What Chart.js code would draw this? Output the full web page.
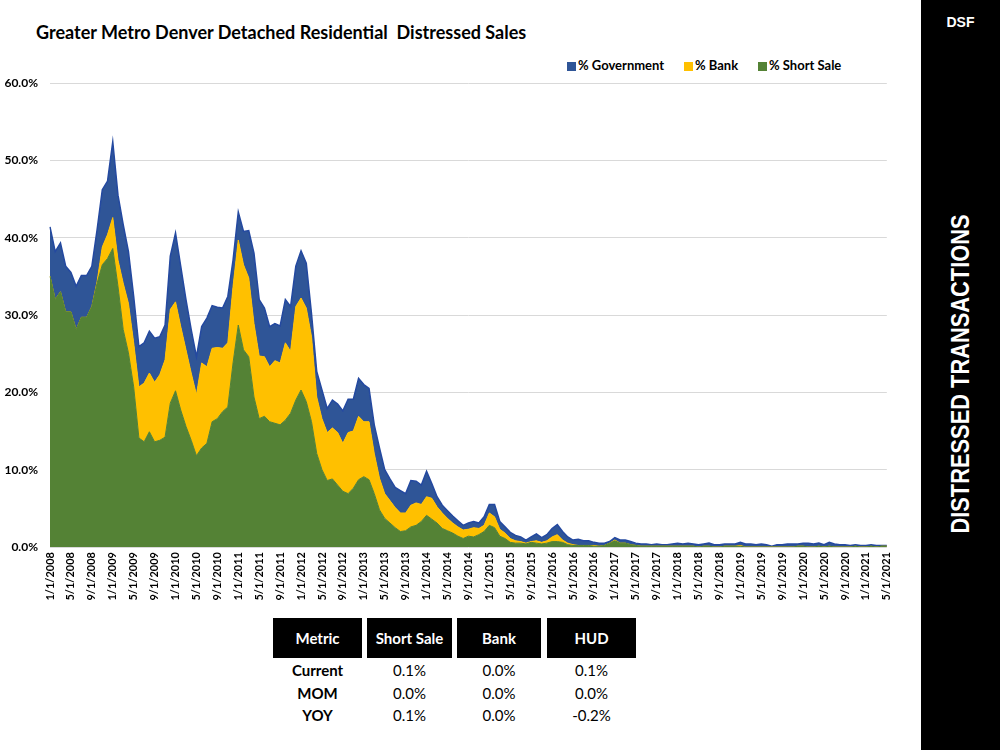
<!DOCTYPE html>
<html>
<head>
<meta charset="utf-8">
<script src="https://cdn.jsdelivr.net/npm/chart.js@4"></script>
<style>
  body { margin: 0; width: 1000px; height: 750px; background: #fff; position: relative; overflow: hidden; font-family: Lato, "Open Sans", sans-serif; }
  #wrap { position: absolute; left: 0; top: 0; width: 905px; height: 610px; }
  #title { position: absolute; left: 36px; top: 21px; font-size: 18px; font-weight: bold; white-space: pre; color: #000; }
  .leg { position: absolute; top: 57px; font-size: 13px; font-weight: bold; color: #000; white-space: pre; }
  .leg i { display: inline-block; width: 9px; height: 9px; margin-right: 2px; vertical-align: -1px; }
  #side { position: absolute; left: 921px; top: 0; width: 79px; height: 750px; background: #000; color: #fff; font-family: "Liberation Sans", Arial, sans-serif; font-weight: bold; }
  #dsf { position: absolute; top: 14px; width: 100%; text-align: center; font-size: 14px; }
  #vert { position: absolute; left: 39px; top: 374px; font-size: 26px; white-space: nowrap; transform: translate(-50%, -50%) rotate(-90deg) scaleX(0.84); }
  .cell { position: absolute; text-align: center; font-size: 15px; }
  .head { background: #000; color: #fff; font-weight: bold; height: 40px; line-height: 40px; top: 618px; }
</style>
</head>
<body>
<div id="title">Greater Metro Denver Detached Residential  Distressed Sales</div>
<div class="leg" style="left:567px"><i style="background:#2F5597"></i>% Government</div>
<div class="leg" style="left:684px"><i style="background:#FFC000"></i>% Bank</div>
<div class="leg" style="left:758px"><i style="background:#548235"></i>% Short Sale</div>
<div id="wrap"><canvas id="myChart"></canvas></div>
<div id="table"></div>
<div id="side"><div id="dsf">DSF</div><div id="vert">DISTRESSED TRANSACTIONS</div></div>
<script>
// monthly, 1/1/2008 .. 5/1/2021 (one row per year)
const startYear = 2008;
const shortSale = [
    35.0, 32.0, 33.0, 30.4, 30.4, 28.1, 29.7, 29.7, 31.1, 34.1, 36.5, 37.3,
    38.6, 33.7, 28.1, 25.1, 20.7, 14.1, 13.6, 14.9, 13.6, 13.8, 14.2, 18.6,
    20.2, 17.7, 15.6, 13.8, 11.8, 12.8, 13.4, 16.2, 16.6, 17.5, 18.1, 23.8,
    28.7, 25.5, 24.6, 19.4, 16.6, 16.9, 16.2, 16.0, 15.8, 16.4, 17.3, 19.0,
    20.3, 18.8, 16.2, 12.1, 10.0, 8.6, 8.8, 8.0, 7.2, 6.9, 7.6, 8.7,
    9.1, 8.7, 6.9, 4.8, 3.7, 3.1, 2.5, 2.0, 2.1, 2.6, 2.8, 3.3,
    4.1, 3.6, 3.1, 2.4, 2.1, 1.8, 1.4, 1.1, 1.4, 1.3, 1.6, 2.0,
    2.8, 2.5, 1.4, 1.1, 0.6, 0.5, 0.5, 0.4, 0.6, 0.5, 0.4, 0.5,
    0.7, 0.7, 0.6, 0.3, 0.2, 0.2, 0.2, 0.2, 0.1, 0.1, 0.2, 0.5,
    0.8, 0.5, 0.5, 0.3, 0.2, 0.1, 0.1, 0.1, 0.1, 0.1, 0.1, 0.1,
    0.1, 0.1, 0.1, 0.1, 0.0, 0.1, 0.1, 0.0, 0.0, 0.1, 0.1, 0.1,
    0.1, 0.0, 0.0, 0.0, 0.0, 0.0, 0.0, 0.0, 0.0, 0.0, 0.0, 0.1,
    0.1, 0.0, 0.0, 0.1, 0.0, 0.1, 0.0, 0.0, 0.0, 0.0, 0.1, 0.0,
    0.0, 0.1, 0.0, 0.1, 0.1
];
const bank = [
    0.0, 0.0, 0.0, 0.0, 0.0, 0.0, 0.0, 0.0, 0.0, 0.2, 2.3, 3.1,
    4.0, 3.4, 6.0, 6.4, 5.7, 6.6, 7.6, 7.6, 7.7, 8.5, 10.0, 12.1,
    11.5, 10.8, 9.9, 8.7, 7.9, 11.0, 9.9, 9.5, 9.2, 8.2, 8.3, 9.9,
    11.0, 11.0, 10.2, 9.5, 8.1, 7.7, 7.1, 8.1, 8.0, 10.0, 8.0, 12.1,
    11.9, 12.1, 11.0, 7.3, 6.6, 6.2, 6.6, 6.8, 6.2, 7.9, 7.4, 8.2,
    7.1, 7.5, 5.2, 4.1, 3.2, 2.9, 2.6, 2.4, 2.3, 2.8, 2.9, 2.2,
    2.4, 2.7, 2.1, 2.0, 1.6, 1.3, 1.2, 1.1, 0.9, 1.2, 0.8, 0.8,
    1.6, 1.4, 0.9, 0.7, 0.5, 0.3, 0.2, 0.1, 0.1, 0.3, 0.2, 0.3,
    0.6, 0.9, 0.3, 0.2, 0.1, 0.0, 0.0, 0.0, 0.1, 0.0, 0.0, 0.0,
    0.1, 0.0, 0.0, 0.0, 0.0, 0.0, 0.0, 0.0, 0.0, 0.0, 0.0, 0.0,
    0.0, 0.0, 0.0, 0.0, 0.0, 0.0, 0.0, 0.0, 0.0, 0.0, 0.0, 0.0,
    0.1, 0.0, 0.0, 0.0, 0.0, 0.0, 0.0, 0.0, 0.0, 0.0, 0.0, 0.0,
    0.0, 0.0, 0.0, 0.0, 0.0, 0.0, 0.0, 0.0, 0.0, 0.0, 0.0, 0.0,
    0.0, 0.0, 0.0, 0.0, 0.0
];
const government = [
    6.4, 6.2, 6.3, 5.9, 5.1, 5.6, 5.4, 5.4, 5.2, 6.7, 7.4, 6.9,
    9.8, 8.4, 7.6, 6.7, 6.0, 5.2, 5.2, 5.4, 5.7, 4.9, 4.5, 6.9,
    8.9, 7.8, 6.5, 5.6, 4.9, 4.7, 6.3, 5.5, 5.2, 5.2, 6.0, 3.4,
    3.6, 4.3, 6.1, 9.1, 7.3, 6.3, 5.2, 4.8, 4.8, 5.6, 5.8, 5.2,
    6.1, 5.8, 3.0, 3.3, 3.7, 3.1, 3.6, 3.7, 4.2, 4.3, 4.1, 4.9,
    4.8, 4.3, 3.7, 3.9, 3.1, 2.8, 2.6, 2.9, 2.5, 3.2, 2.8, 2.5,
    3.3, 1.9, 1.3, 1.0, 1.0, 0.9, 0.8, 0.6, 0.8, 0.8, 0.7, 1.1,
    1.1, 1.6, 1.0, 0.8, 0.8, 0.7, 0.6, 0.4, 0.6, 0.9, 0.6, 0.8,
    1.1, 1.3, 1.1, 0.8, 0.6, 0.8, 0.6, 0.6, 0.4, 0.4, 0.3, 0.2,
    0.3, 0.4, 0.4, 0.4, 0.3, 0.3, 0.3, 0.2, 0.3, 0.2, 0.2, 0.3,
    0.4, 0.3, 0.4, 0.3, 0.3, 0.3, 0.4, 0.3, 0.3, 0.3, 0.3, 0.3,
    0.4, 0.4, 0.4, 0.3, 0.4, 0.3, 0.1, 0.3, 0.3, 0.4, 0.4, 0.3,
    0.4, 0.5, 0.4, 0.4, 0.3, 0.5, 0.4, 0.3, 0.3, 0.2, 0.2, 0.2,
    0.2, 0.2, 0.2, 0.1, 0.1
];
const yTicks = [0, 10, 20, 30, 40, 50, 60];

// summary table under the chart
const tableHeaders = ['Metric', 'Short Sale', 'Bank', 'HUD'];
const tableRows = ['Current', 'MOM', 'YOY'];
const tableShort = ['0.1%', '0.0%', '0.1%'];
const tableBank = ['0.0%', '0.0%', '0.0%'];
const tableHud = ['0.1%', '0.0%', '-0.2%'];

const labels = shortSale.map((v, i) => {
    const m = i % 12 + 1;
    const y = startYear + Math.floor(i / 12);
    return m + '/1/' + y;
});

// build table
const colLeft = [273, 367, 457, 547];
const colWidth = [89, 85, 84, 89];
const rowTop = [661, 684, 706];
let html = '';
tableHeaders.forEach((h, c) => {
    html += `<div class="cell head" style="left:${colLeft[c]}px;width:${colWidth[c]}px">${h}</div>`;
});
tableRows.forEach((r, k) => {
    const vals = [r, tableShort[k], tableBank[k], tableHud[k]];
    vals.forEach((v, c) => {
        html += `<div class="cell" style="left:${colLeft[c]}px;width:${colWidth[c]}px;top:${rowTop[k]}px;${c === 0 ? 'font-weight:bold' : ''}">${v}</div>`;
    });
});
document.getElementById('table').innerHTML = html;

const ctx = document.getElementById('myChart').getContext('2d');
const myChart = new Chart(ctx, {
    type: 'line',
    data: {
        labels: labels,
        datasets: [{
            label: '% Short Sale',
            data: shortSale,
            backgroundColor: '#548235',
            borderColor: '#548235',
            borderWidth: 1,
            fill: 'origin'
        }, {
            label: '% Bank',
            data: bank,
            backgroundColor: '#FFC000',
            borderColor: '#FFC000',
            borderWidth: 1,
            fill: '-1'
        }, {
            label: '% Government',
            data: government,
            backgroundColor: '#2F5597',
            borderColor: '#2449A0',
            borderWidth: 1.5,
            fill: '-1'
        }]
    },
    options: {
        responsive: true,
        maintainAspectRatio: false,
        animation: false,
        elements: { point: { radius: 0 }, line: { tension: 0 } },
        layout: { padding: { top: 83, right: 17, left: 0, bottom: 0 } },
        plugins: {
            legend: { display: false },
            tooltip: { enabled: false }
        },
        scales: {
            x: {
                grid: { display: false, drawTicks: false },
                border: { display: false },
                afterFit: (scale) => { scale.height = 63; },
                ticks: {
                    autoSkip: false,
                    maxRotation: 90,
                    minRotation: 90,
                    padding: 5,
                    color: '#000',
                    font: { family: 'Lato', size: 11, weight: 'bold' },
                    callback: function (val, index) {
                        return index % 4 === 0 ? labels[index] : '';
                    }
                }
            },
            y: {
                stacked: true,
                min: 0,
                max: 60,
                afterFit: (scale) => { scale.width = 50; },
                afterBuildTicks: (scale) => { scale.ticks = yTicks.map(v => ({ value: v })); },
                grid: { color: '#D9D9D9', lineWidth: 1, drawTicks: false },
                border: { display: false },
                ticks: {
                    padding: 12,
                    color: '#000',
                    font: { family: 'Lato', size: 12, weight: 'bold' },
                    callback: (v) => v.toFixed(1) + '%'
                }
            }
        }
    }
});
</script>
</body>
</html>
